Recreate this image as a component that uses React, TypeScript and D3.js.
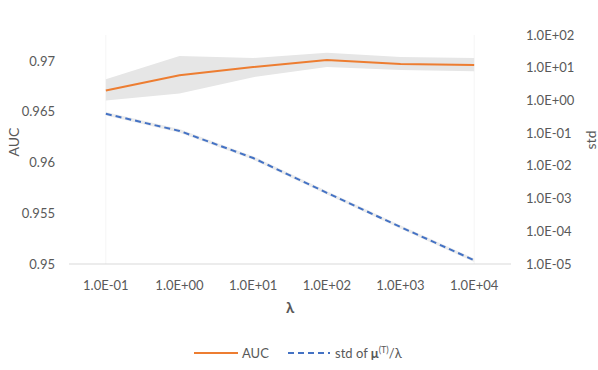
import React from "react";
import * as d3 from "d3";

const categories = ["1.0E-01", "1.0E+00", "1.0E+01", "1.0E+02", "1.0E+03", "1.0E+04"];
const auc = [0.9671, 0.9686, 0.9694, 0.9701, 0.9697, 0.9696];
const aucUpper = [0.9682, 0.9705, 0.9703, 0.9708, 0.9704, 0.9703];
const aucLower = [0.9661, 0.9668, 0.9684, 0.9694, 0.9691, 0.969];
const stdVals = [0.39, 0.117, 0.0174, 0.0015, 0.000135, 0.000013];
const leftTicks = [0.95, 0.955, 0.96, 0.965, 0.97];
const rightTicks = [1e-5, 1e-4, 1e-3, 1e-2, 1e-1, 1e0, 1e1, 1e2];
const rightTickLabels = ["1.0E-05", "1.0E-04", "1.0E-03", "1.0E-02", "1.0E-01", "1.0E+00", "1.0E+01", "1.0E+02"];

const W = 598, H = 370;
const left = 69, right = 511, top = 35, bottom = 264;
const font = "Lato, 'Open Sans', sans-serif";
const textColor = "#595959";

export default function App() {
  const x = d3.scaleBand<string>().domain(categories).range([left, right]);
  const xc = (i: number) => (x(categories[i]) as number) + x.bandwidth() / 2;
  const y = d3.scaleLinear().domain([0.95, 0.97256]).range([bottom, top]);
  const y2 = d3.scaleLog().domain([1e-5, 1e2]).range([bottom, top]);

  const line = d3.line<number>().x((_, i) => xc(i)).y((d) => y(d));
  const band = d3.area<number>().x((_, i) => xc(i)).y0((_, i) => y(aucLower[i])).y1((d) => y(d));
  const stdLine = d3.line<number>().x((_, i) => xc(i)).y((d) => y2(d));
  const stdBand = d3.area<number>().x((_, i) => xc(i)).y0((d) => y2(d) + 1.8).y1((d) => y2(d) - 1.8);

  return (
    <svg width={W} height={H} style={{ position: "absolute", left: 0, top: 0, background: "#fff" }}>
      <rect width={W} height={H} fill="#fff" />
      <line x1={xc(0)} x2={xc(0)} y1={top} y2={bottom} stroke="#f5f5f5" />
      <line x1={xc(5)} x2={xc(5)} y1={top} y2={bottom} stroke="#f5f5f5" />
      <path d={band(aucUpper) as string} fill="#e6e6e6" />
      <path d={stdBand(stdVals) as string} fill="#ececec" />
      <line x1={left} x2={right} y1={bottom} y2={bottom} stroke="#d9d9d9" strokeWidth={1} />
      <path d={line(auc) as string} fill="none" stroke="#ED7D31" strokeWidth={2} />
      <path d={stdLine(stdVals) as string} fill="none" stroke="#4472C4" strokeWidth={2} strokeDasharray="6,4" />
      {leftTicks.map((t) => (
        <text key={t} x={55} y={y(t)} dy="0.35em" textAnchor="end" fontFamily={font} fontSize={13} fill={textColor}>
          {String(t)}
        </text>
      ))}
      {rightTicks.map((t, i) => (
        <text key={t} x={526} y={y2(t)} dy="0.35em" textAnchor="start" fontFamily={font} fontSize={13} fill={textColor}>
          {rightTickLabels[i]}
        </text>
      ))}
      {categories.map((c, i) => (
        <text key={c} x={xc(i)} y={285} dy="0.35em" textAnchor="middle" fontFamily={font} fontSize={13} fill={textColor}>
          {c}
        </text>
      ))}
      <text transform={`translate(14,142) rotate(-90)`} textAnchor="middle" dy="0.35em" fontFamily={font} fontSize={14} fill={textColor}>AUC</text>
      <text transform={`translate(591,140) rotate(-90)`} textAnchor="middle" dy="0.35em" fontFamily={font} fontSize={14} fill={textColor}>std</text>
      <text x={290} y={308} dy="0.35em" textAnchor="middle" fontFamily={font} fontSize={15} fontWeight="bold" fill={textColor}>λ</text>
      <line x1={194} x2={238} y1={353} y2={353} stroke="#ED7D31" strokeWidth={2} />
      <text x={242} y={353} dy="0.35em" fontFamily={font} fontSize={13} fill={textColor}>AUC</text>
      <line x1={288} x2={330} y1={353} y2={353} stroke="#4472C4" strokeWidth={2} strokeDasharray="6,4" />
      <text x={335} y={353} dy="0.35em" fontFamily={font} fontSize={13} fill={textColor}>
        std of <tspan fontWeight="bold">μ</tspan><tspan fontSize={9} dy="-5">(T)</tspan><tspan dy="5">/λ</tspan>
      </text>
    </svg>
  );
}
